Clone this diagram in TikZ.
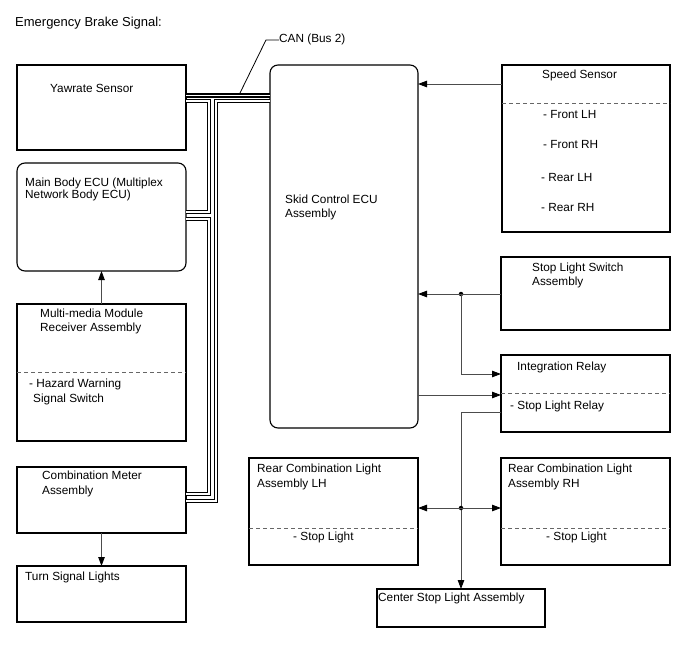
\documentclass[tikz,border=0pt]{standalone}
\usepackage{fontspec}
\setmainfont{Liberation Sans}
\usetikzlibrary{arrows.meta,calc}
\begin{document}
\begin{tikzpicture}[x=1pt,y=-1pt,
  box/.style={draw=black,line width=1.1pt,anchor=north west,inner sep=0pt,outer sep=0pt},
  rbox/.style={box,rounded corners=8pt},
  lbl/.style={anchor=base west,inner sep=0pt,font=\fontsize{11.8}{14}\selectfont},
  conn/.style={draw=black!70,line width=0.9pt},
  arr/.style={conn,-{Triangle[length=9pt,width=6.5pt,fill=black,color=black]}},
  sep/.style={draw=black!60,line width=0.8pt,dash pattern=on 4pt off 3pt},
  bus/.style={draw=black,line width=1.7pt,double=white,double distance=1.3pt},
  dot/.style={circle,fill=black,inner sep=0pt,minimum size=4.5pt}
]
\useasboundingbox[fill=white] (0,0) rectangle (688,658);

% title
\node[lbl,font=\fontsize{13}{15}\selectfont] (title) at (15,27) {Emergency Brake Signal:};

% left column
\node[box,minimum width=169pt,minimum height=85pt] (yaw) at (17,65) {};
\node[rbox,minimum width=169pt,minimum height=108pt] (mb) at (17,163) {};
\node[box,minimum width=169pt,minimum height=137pt] (mm) at (17,304) {};
\node[box,minimum width=169pt,minimum height=66pt] (cm) at (17,467) {};
\node[box,minimum width=169pt,minimum height=56pt] (tsl) at (17,566) {};

% centre
\node[rbox,minimum width=148pt,minimum height=363pt] (skid) at (270,65) {};
\node[box,minimum width=169pt,minimum height=107pt] (rl) at (249,458) {};
\node[box,minimum width=168pt,minimum height=38pt] (cs) at (377,589) {};

% right column
\node[box,minimum width=168pt,minimum height=167pt] (ss) at (502,65) {};
\node[box,minimum width=169pt,minimum height=73pt] (sls) at (501,257) {};
\node[box,minimum width=169pt,minimum height=77pt] (ir) at (501,355) {};
\node[box,minimum width=169pt,minimum height=107pt] (rr) at (501,458) {};

% dashed separators
\draw[sep] ($(mm.north west)+(0,68)$) -- ($(mm.north east)+(0,68)$);
\draw[sep] ($(ss.north west)+(0,38)$) -- ($(ss.north east)+(0,38)$);
\draw[sep] ($(ir.north west)+(0,38)$) -- ($(ir.north east)+(0,38)$);
\draw[sep] ($(rl.north west)+(0,70)$) -- ($(rl.north east)+(0,70)$);
\draw[sep] ($(rr.north west)+(0,70)$) -- ($(rr.north east)+(0,70)$);

% labels
\node[lbl] (t1) at (50,92.5) {Yawrate Sensor};
\node[lbl] (t2) at (25,186) {Main Body ECU (Multiplex};
\node[lbl] (t3) at (25,198.5) {Network Body ECU)};
\node[lbl] (t4) at (40,317.5) {Multi-media Module};
\node[lbl] (t5) at (40,331.5) {Receiver Assembly};
\node[lbl] (t6) at (29,387.5) {- Hazard Warning};
\node[lbl] (t7) at (33,402.5) {Signal Switch};
\node[lbl] (t8) at (42,479) {Combination Meter};
\node[lbl] (t9) at (42,494) {Assembly};
\node[lbl] (t10) at (25,580) {Turn Signal Lights};
\node[lbl] (t11) at (285,203) {Skid Control ECU};
\node[lbl] (t12) at (285,217) {Assembly};
\node[lbl] (t13) at (542,79) {Speed Sensor};
\node[lbl] (t14) at (543,119) {- Front LH};
\node[lbl] (t15) at (543,149) {- Front RH};
\node[lbl] (t16) at (541,181) {- Rear LH};
\node[lbl] (t17) at (541,211) {- Rear RH};
\node[lbl] (t18) at (532,271) {Stop Light Switch};
\node[lbl] (t19) at (532,285) {Assembly};
\node[lbl] (t20) at (517,370) {Integration Relay};
\node[lbl] (t21) at (510,409) {- Stop Light Relay};
\node[lbl] (t22) at (257,472.5) {Rear Combination Light};
\node[lbl] (t23) at (257,487) {Assembly LH};
\node[lbl] (t24) at (293,540) {- Stop Light};
\node[lbl] (t25) at (508,472.5) {Rear Combination Light};
\node[lbl] (t26) at (508,487) {Assembly RH};
\node[lbl] (t27) at (546,540) {- Stop Light};
\node[lbl] (t28) at (378,601) {Center Stop Light Assembly};

% CAN bus
\draw[bus] ($(yaw.north east)+(0,30.5)$) -- ($(skid.north west)+(0,30.5)$);
\draw[bus] ($(yaw.north east)+(0,36)$) -- ++(23,0) |- ($(mb.north east)+(0,49)$);
\draw[bus] ($(mb.north east)+(0,56)$) -- ++(23,0) |- ($(cm.north east)+(0,27)$);
\draw[bus] ($(skid.north west)+(0,36)$) -- ++(-54,0) |- ($(cm.north east)+(0,34)$);
\node[lbl] (can) at (279,43) {CAN (Bus 2)};
\coordinate (canpt) at ($(yaw.north east)+(54,28)$);
\draw[black,line width=0.8pt] (canpt) -- ($(can.west)+(-13,0)$) -- (can.west);

% connectors
\draw[arr] (mm.north) -- (mb.south);
\draw[arr] (cm.south) -- (tsl.north);
\draw[arr] ($(ss.north west)+(0,19)$) -- ($(skid.north east)+(0,19)$);

\node[dot] (d1) at (461,294) {};
\draw[arr] ($(sls.north west)+(0,37)$) -- ($(skid.north east)+(0,229)$);
\coordinate (irin) at ($(ir.north west)+(0,19)$);
\draw[arr] (d1.center) |- (irin);
\draw[arr] ($(skid.north east)+(0,330)$) -- ($(ir.north west)+(0,40)$);

\coordinate (irout) at ($(ir.north west)+(0,57)$);
\draw[arr] (irout) -| (cs.north);
\node[dot] (d2) at (461,508) {};
\draw[arr] (d2.center) -- (d2.center -| rl.east);
\draw[arr] (d2.center) -- (d2.center -| rr.west);
\end{tikzpicture}
\end{document}
